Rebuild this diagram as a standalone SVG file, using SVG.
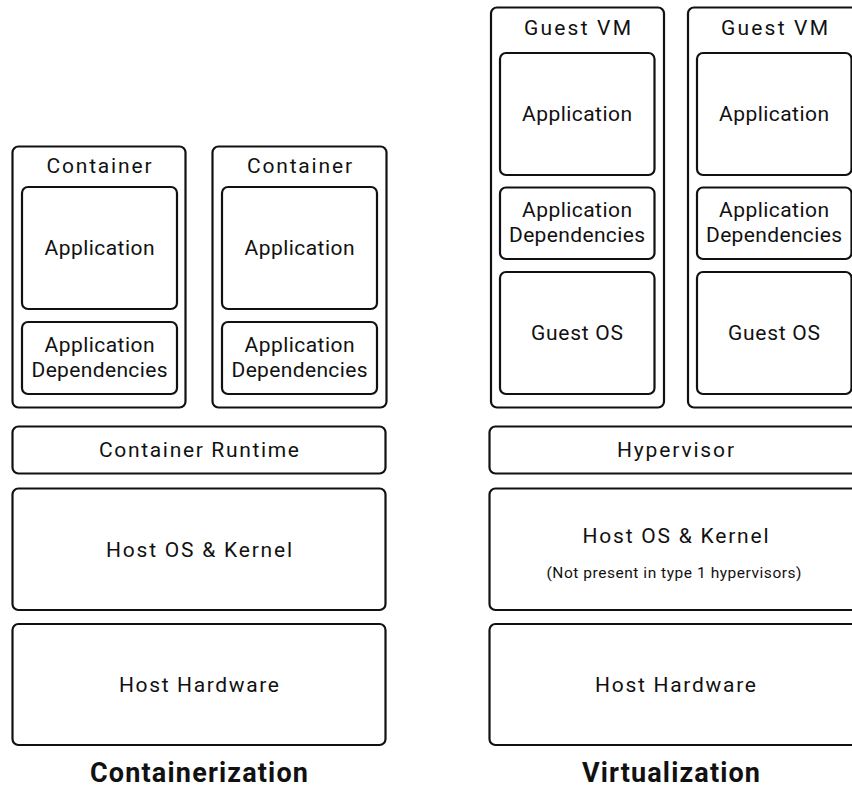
<svg xmlns="http://www.w3.org/2000/svg" width="852" height="788" viewBox="0 0 852 788">
<style>
.b{fill:#fff;stroke:#111;stroke-width:2.2}
.t{font-family:Roboto,"Liberation Sans",sans-serif;font-size:21px;fill:#111;text-anchor:middle}
.s{font-family:Roboto,"Liberation Sans",sans-serif;font-size:15.5px;fill:#111;text-anchor:middle}
.h{font-family:Roboto,"Liberation Sans",sans-serif;font-size:27px;font-weight:bold;fill:#111;text-anchor:middle}
</style>
<rect width="852" height="788" fill="#fff"/>
<g id="containerization">
<g id="container1">
<rect class="b" x="12.5" y="146.5" width="173" height="261" rx="6"/>
<text class="t" x="99" y="173" textLength="105">Container</text>
<g id="c1-app"><rect class="b" x="22" y="187" width="155" height="122" rx="6"/><text class="t" x="99.5" y="255" textLength="110">Application</text></g>
<g id="c1-deps"><rect class="b" x="22" y="322" width="155" height="72" rx="6"/><text class="t" x="99.5" y="352" textLength="110">Application</text><text class="t" x="99.5" y="377" textLength="136">Dependencies</text></g>
</g>
<g id="container2">
<rect class="b" x="212.5" y="146.5" width="174" height="261" rx="6"/>
<text class="t" x="299.5" y="173" textLength="105">Container</text>
<g id="c2-app"><rect class="b" x="222" y="187" width="155" height="122" rx="6"/><text class="t" x="299.5" y="255" textLength="110">Application</text></g>
<g id="c2-deps"><rect class="b" x="222" y="322" width="155" height="72" rx="6"/><text class="t" x="299.5" y="352" textLength="110">Application</text><text class="t" x="299.5" y="377" textLength="136">Dependencies</text></g>
</g>
<g id="container-runtime"><rect class="b" x="12.5" y="426.5" width="373" height="47" rx="6"/><text class="t" x="199" y="457" textLength="200">Container Runtime</text></g>
<g id="c-host-os"><rect class="b" x="12.5" y="488.5" width="373" height="121.5" rx="6"/><text class="t" x="199" y="557" textLength="186">Host OS &amp; Kernel</text></g>
<g id="c-host-hw"><rect class="b" x="12.5" y="624" width="373" height="121" rx="6"/><text class="t" x="199" y="692" textLength="160">Host Hardware</text></g>
<text class="h" x="199" y="782" textLength="218">Containerization</text>
</g>
<g id="virtualization">
<g id="vm1">
<rect class="b" x="491" y="7.5" width="173" height="400" rx="6"/>
<text class="t" x="577.5" y="35" textLength="107">Guest VM</text>
<g id="vm1-app"><rect class="b" x="500" y="53" width="154.5" height="122" rx="6"/><text class="t" x="577" y="121" textLength="110">Application</text></g>
<g id="vm1-deps"><rect class="b" x="500" y="187.5" width="154.5" height="71.5" rx="6"/><text class="t" x="577" y="217" textLength="110">Application</text><text class="t" x="577" y="242" textLength="136">Dependencies</text></g>
<g id="vm1-os"><rect class="b" x="500" y="272" width="154.5" height="122" rx="6"/><text class="t" x="577" y="340" textLength="92">Guest OS</text></g>
</g>
<g id="vm2">
<rect class="b" x="688" y="7.5" width="173" height="400" rx="6"/>
<text class="t" x="774.5" y="35" textLength="107">Guest VM</text>
<g id="vm2-app"><rect class="b" x="697" y="53" width="154.5" height="122" rx="6"/><text class="t" x="774" y="121" textLength="110">Application</text></g>
<g id="vm2-deps"><rect class="b" x="697" y="187.5" width="154.5" height="71.5" rx="6"/><text class="t" x="774" y="217" textLength="110">Application</text><text class="t" x="774" y="242" textLength="136">Dependencies</text></g>
<g id="vm2-os"><rect class="b" x="697" y="272" width="154.5" height="122" rx="6"/><text class="t" x="774" y="340" textLength="92">Guest OS</text></g>
</g>
<g id="hypervisor"><rect class="b" x="489.5" y="426.5" width="373" height="47" rx="6"/><text class="t" x="675.5" y="457" textLength="117">Hypervisor</text></g>
<g id="v-host-os"><rect class="b" x="489.5" y="488.5" width="373" height="121.5" rx="6"/><text class="t" x="675.5" y="543" textLength="186">Host OS &amp; Kernel</text><text class="s" x="674" y="578" textLength="255">(Not present in type 1 hypervisors)</text></g>
<g id="v-host-hw"><rect class="b" x="489.5" y="624" width="373" height="121" rx="6"/><text class="t" x="675.5" y="692" textLength="161">Host Hardware</text></g>
<text class="h" x="671" y="782" textLength="178">Virtualization</text>
</g>
<g id="connectors"/>
</svg>
